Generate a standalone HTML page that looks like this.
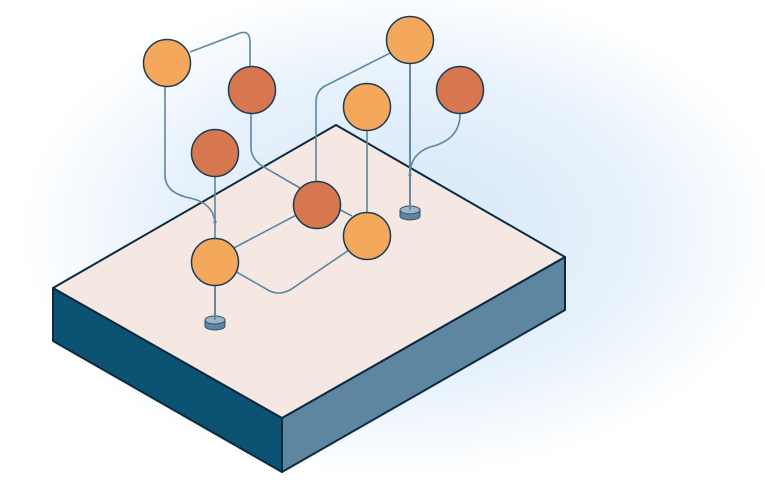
<!DOCTYPE html>
<html><head><style>
html,body{margin:0;padding:0;background:#fff;}
svg{display:block;}
</style></head><body>
<svg width="765" height="495" viewBox="0 0 765 495" xmlns="http://www.w3.org/2000/svg">
<defs>
<radialGradient id="bg" cx="400" cy="230" r="380" gradientUnits="userSpaceOnUse" gradientTransform="translate(400 230) scale(1 0.65) translate(-400 -230)">
<stop offset="0" stop-color="#d6e8f8"/>
<stop offset="0.6" stop-color="#e6f1fb"/>
<stop offset="1" stop-color="#ffffff"/>
</radialGradient>
</defs>
<rect width="765" height="495" fill="url(#bg)"/>
<polygon points="53,288 282,418 282,472 53,341" fill="#0b5273" stroke="#0b2a40" stroke-width="2" stroke-linejoin="round"/>
<polygon points="282,418 565,257 565,310 282,472" fill="#5f86a1" stroke="#0b2a40" stroke-width="2" stroke-linejoin="round"/>
<polygon points="53,288 336,125 565,257 282,418" fill="#f5e7e2" stroke="#0b2a40" stroke-width="2" stroke-linejoin="round"/>
<g fill="none" stroke="#5f86a1" stroke-width="1.6">
<path d="M190,52 L240,33 Q250,30 250,42 L250,74"/>
<path d="M165,87 L165,175 Q165,193 190,198 Q213,203 215,222"/>
<path d="M251,114 L251,148 Q251,158 262,166 L300,188"/>
<path d="M215,177 L215,245"/>
<path d="M400,48 L325,86 Q316,91 316,102 L316,188"/>
<path d="M410,64 L410,205"/>
<path d="M367,131 L367,220"/>
<path d="M460,114 Q460,140 430,147 Q410,154 410,175"/>
<path d="M331,205 L352,216"/>
<path d="M230,250 L304,211"/>
<path d="M226,266 L268,290 Q278,296 290,290 L352,248"/>
<path d="M215,286 L215,318"/>
</g>
<g fill="#5f86a1">
<circle cx="250" cy="74" r="1.6"/><circle cx="215" cy="222" r="1.6"/><circle cx="215" cy="245" r="1.6"/>
<circle cx="400" cy="48" r="1.6"/><circle cx="316" cy="188" r="1.6"/><circle cx="410" cy="175" r="1.6"/>
<circle cx="367" cy="220" r="1.6"/><circle cx="331" cy="205" r="1.6"/><circle cx="304" cy="211" r="1.6"/>
<circle cx="226" cy="266" r="1.6"/><circle cx="352" cy="248" r="1.6"/>
</g>
<g stroke="#1b3a55" stroke-width="1.5">
<circle cx="167" cy="63" r="23.5" fill="#f4a85c"/>
<circle cx="252" cy="90" r="23.5" fill="#d67750"/>
<circle cx="215" cy="153" r="23.5" fill="#d67750"/>
<circle cx="410" cy="40" r="23.5" fill="#f4a85c"/>
<circle cx="367" cy="107" r="23.5" fill="#f4a85c"/>
<circle cx="460" cy="90" r="23.5" fill="#d67750"/>
<circle cx="317" cy="205" r="23.5" fill="#d67750"/>
<circle cx="367" cy="236" r="23.5" fill="#f4a85c"/>
<circle cx="215" cy="262" r="23.5" fill="#f4a85c"/>
</g>
<g fill="none" stroke="#5f86a1" stroke-width="1.6">
<path d="M215,286 L215,318"/><path d="M410,64 L410,206"/>
</g>
<g stroke="#2d4f6b" stroke-width="1">
<path d="M205,320 L205,326 A10,4 0 0 0 225,326 L225,320" fill="#5f86a1"/>
<ellipse cx="215" cy="320" rx="10" ry="4" fill="#9ab3c6"/>
<path d="M400,210 L400,216 A10,4 0 0 0 420,216 L420,210" fill="#5f86a1"/>
<ellipse cx="410" cy="210" rx="10" ry="4" fill="#9ab3c6"/>
</g>
<path d="M215,286 L215,320 M410,64 L410,210" stroke="#5f86a1" stroke-width="1.6"/>
</svg>
</body></html>
